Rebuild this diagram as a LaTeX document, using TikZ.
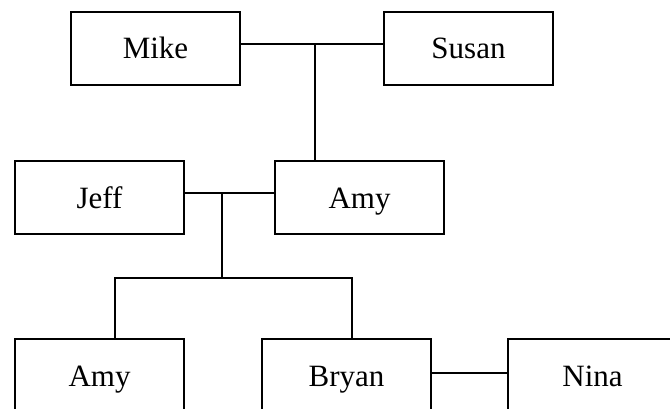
\documentclass[tikz,border=0pt]{standalone}
\usepackage{fontspec}
\setmainfont{Liberation Serif}
\begin{document}
\begin{tikzpicture}[x=1pt,y=-1pt,
  person/.style={draw,line width=1.1pt,minimum width=169pt,minimum height=73pt,inner sep=0pt,
    font=\fontsize{31}{31}\selectfont,text height=21pt,text depth=0pt},
  link/.style={line width=1.1pt}]
\clip (0,0) rectangle (670,409);
\fill[white] (0,0) rectangle (670,409);
\node[person] (mike) at (155.5,48.5) {Mike};
\node[person] (susan) at (468.5,48.5) {Susan};
\node[person] (jeff) at (99.5,197.5) {Jeff};
\node[person] (amy) at (359.5,197.5) {Amy};
\node[person] (amyc) at (99.5,375.5) {Amy};
\node[person] (bryan) at (346.5,375.5) {Bryan};
\node[person] (nina) at (592.5,375.5) {Nina};
\draw[link] ([yshift=4.5pt]mike.east) -- ([yshift=4.5pt]susan.west);
\coordinate (m1) at (315,44);
\draw[link] (m1) -- (m1 |- amy.north);
\draw[link] ([yshift=4.5pt]jeff.east) -- ([yshift=4.5pt]amy.west);
\coordinate (m2) at (222,193);
\coordinate (m3) at (222,278);
\draw[link] (m2) -- (m3);
\coordinate (l1) at (115,278);
\coordinate (r1) at (352,278);
\draw[link] (l1 |- amyc.north) -- (l1) -- (r1) -- (r1 |- bryan.north);
\draw[link] ([yshift=2.5pt]bryan.east) -- ([yshift=2.5pt]nina.west);
\end{tikzpicture}
\end{document}
